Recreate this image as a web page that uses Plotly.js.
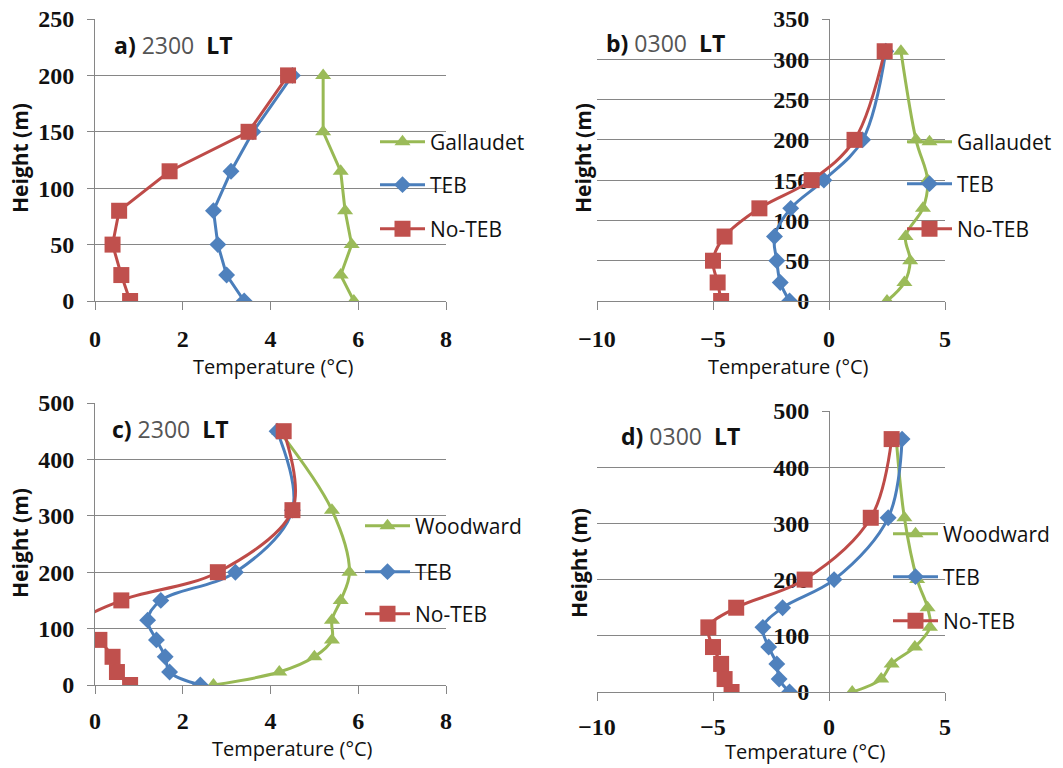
<!DOCTYPE html>
<html><head><meta charset="utf-8">
<script src="https://cdn.plot.ly/plotly-3.0.1.min.js"></script>
<style>html,body{margin:0;padding:0;background:#fff}</style>
</head><body><div id="chart" style="width:1063px;height:768px"></div>
<script>
// ---- data ----
const heightsA = [0, 23, 50, 80, 115, 150, 200];
const gallaudetA = [5.9, 5.6, 5.85, 5.7, 5.6, 5.2, 5.2];
const tebA = [3.4, 3.0, 2.8, 2.7, 3.1, 3.6, 4.5];
const noTebA = [0.8, 0.6, 0.4, 0.55, 1.7, 3.5, 4.4];

const heightsB = [0, 23, 50, 80, 115, 150, 200, 310];
const gallaudetB = [2.5, 3.25, 3.5, 3.3, 4.05, 4.25, 3.75, 3.1];
const tebB = [-1.7, -2.1, -2.25, -2.35, -1.65, -0.22, 1.45, 2.45];
const noTebB = [-4.65, -4.8, -5.0, -4.5, -3.0, -0.75, 1.1, 2.4];

const heightsC = [0, 23, 50, 80, 115, 150, 200, 310, 450];
const woodwardC = [2.7, 4.2, 5.0, 5.4, 5.4, 5.6, 5.8, 5.4, 4.2];
const tebC = [2.4, 1.7, 1.6, 1.4, 1.2, 1.5, 3.2, 4.5, 4.15];
const noTebC = [0.8, 0.5, 0.4, 0.1, -0.2, 0.6, 2.8, 4.5, 4.3];

const heightsD = [0, 23, 50, 80, 115, 150, 200, 310, 450];
const woodwardD = [1.0, 2.25, 2.7, 3.7, 4.35, 4.25, 3.8, 3.25, 2.9];
const tebD = [-1.7, -2.15, -2.25, -2.6, -2.85, -2.0, 0.22, 2.55, 3.15];
const noTebD = [-4.2, -4.5, -4.65, -5.0, -5.2, -4.0, -1.05, 1.8, 2.7];

const seriesNames = { obsA: 'Gallaudet', obsC: 'Woodward', teb: 'TEB', noteb: 'No-TEB' };
const panelLabels = ['<b>a)</b> <span style="color:#555">2300</span>  <b>LT</b>',
                     '<b>b)</b> <span style="color:#555">0300</span>  <b>LT</b>',
                     '<b>c)</b> <span style="color:#555">2300</span>  <b>LT</b>',
                     '<b>d)</b> <span style="color:#555">0300</span>  <b>LT</b>'];
const xTitle = 'Temperature (°C)';
const yTitle = '<b>Height (m)</b>';

// ---- styling ----
const W = 1063, H = 768;
const GREEN = '#98B954', GREEN_M = '#9BBB59';
const BLUE = '#4A7EBB', BLUE_M = '#4F81BD';
const RED = '#BE4B48', RED_M = '#C0504D';
const GRID = '#868686';
const tickFont = { family: 'Liberation Serif', size: 24, color: '#111', weight: 'bold' };
const legFont = { family: 'Open Sans', size: 21, color: '#111' };

function px(x) { return x / W; }
function py(y) { return 1 - y / H; }

const panels = [
  { ax: '', xs: [95, 446], ys: [19, 301], xr: [0, 8], xd: 2, yr: [0, 250], yd: 50, so: 8,
    h: heightsA, obs: gallaudetA, teb: tebA, nt: noTebA, obsName: seriesNames.obsA, shape: 'linear', mid: false },
  { ax: '2', xs: [597, 945], ys: [19, 301], xr: [-10, 5], xd: 5, yr: [0, 350], yd: 50, so: 8,
    h: heightsB, obs: gallaudetB, teb: tebB, nt: noTebB, obsName: seriesNames.obsA, shape: 'spline', mid: true },
  { ax: '3', xs: [95, 446], ys: [403, 685], xr: [0, 8], xd: 2, yr: [0, 500], yd: 100, so: 6,
    h: heightsC, obs: woodwardC, teb: tebC, nt: noTebC, obsName: seriesNames.obsC, shape: 'spline', mid: false },
  { ax: '4', xs: [597, 945], ys: [411, 692], xr: [-10, 5], xd: 5, yr: [0, 500], yd: 100, so: 5,
    h: heightsD, obs: woodwardD, teb: tebD, nt: noTebD, obsName: seriesNames.obsC, shape: 'spline', mid: true }
];

// legend: symbol-line start x and row centres (px); label / title positions (px)
const legendX = [380, 907, 365, 893];
const legendRows = [[142, 185, 229], [142, 184, 229], [526, 572, 614], [534, 577, 621]];
const labelPos = [[112, 45], [604, 43], [110, 429], [619, 436]];
const yTitlePos = [[20, 158], [583, 158], [20, 543], [579, 563]];
const xTitlePos = [[273, 366, 'middle'], [788, 367, 'middle'], [292, 748, 'middle'], [805, 767, 'bottom']];

const traces = [];
const layout = {
  width: W, height: H, autosize: false,
  margin: { l: 0, r: 0, t: 0, b: 0 },
  paper_bgcolor: '#fff', plot_bgcolor: 'rgba(0,0,0,0)',
  showlegend: true,
  annotations: []
};

let legIdx = 0;
panels.forEach((p, i) => {
  const xa = 'x' + p.ax, ya = 'y' + p.ax;
  const mk = (name, xs, col, mcol, sym, size, row) => {
    legIdx += 1;
    const lg = legIdx === 1 ? 'legend' : 'legend' + legIdx;
    layout[lg] = {
      x: px(legendX[i] - 5), y: py(legendRows[i][row]), xanchor: 'left', yanchor: 'middle',
      bgcolor: 'rgba(0,0,0,0)', borderwidth: 0, font: legFont, itemwidth: 45
    };
    return {
      type: 'scatter', mode: 'lines+markers', name: name,
      x: xs, y: p.h, xaxis: xa, yaxis: ya, legend: lg,
      line: { color: col, width: 3, shape: p.shape, smoothing: 1 },
      marker: { color: mcol, symbol: sym, size: size, line: { width: 0 } },
      hoverinfo: 'x+y+name'
    };
  };
  traces.push(mk(p.obsName, p.obs, GREEN, GREEN_M, 'triangle-up', 14, 0));
  traces.push(mk(seriesNames.teb, p.teb, BLUE, BLUE_M, 'diamond', 13, 1));
  traces.push(mk(seriesNames.noteb, p.nt, RED, RED_M, 'square', 16, 2));

  const xdom = [px(p.xs[0]), px(p.xs[1])];
  const ydom = [py(p.ys[1]), py(p.ys[0])];
  layout['xaxis' + p.ax] = {
    domain: xdom, range: p.xr, dtick: p.xd, tick0: 0, anchor: ya,
    showgrid: false, zeroline: false, showline: true, linecolor: GRID, linewidth: 1,
    ticks: 'outside', ticklen: 8, tickcolor: GRID, tickwidth: 1,
    tickfont: tickFont, ticklabelstandoff: p.so, fixedrange: true
  };
  const yax = {
    domain: ydom, range: p.yr, dtick: p.yd, tick0: 0,
    showgrid: true, gridcolor: GRID, gridwidth: 1, zeroline: false,
    showline: true, linecolor: GRID, linewidth: 1,
    ticks: 'outside', ticklen: 7, tickcolor: GRID, tickwidth: 1,
    tickfont: tickFont, ticklabelstandoff: 8, fixedrange: true
  };
  if (p.mid) {
    yax.anchor = 'free';
    yax.position = px(p.xs[0] + (p.xs[1] - p.xs[0]) * (0 - p.xr[0]) / (p.xr[1] - p.xr[0]));
    yax.layer = 'below traces';
  } else {
    yax.anchor = xa;
  }
  layout['yaxis' + p.ax] = yax;

  layout.annotations.push({
    xref: 'paper', yref: 'paper', x: px(labelPos[i][0]), y: py(labelPos[i][1]),
    xanchor: 'left', yanchor: 'middle', showarrow: false, text: panelLabels[i],
    font: { family: 'Open Sans', size: 23, color: '#111' }
  });
  layout.annotations.push({
    xref: 'paper', yref: 'paper', x: px(yTitlePos[i][0]), y: py(yTitlePos[i][1]),
    xanchor: 'center', yanchor: 'middle', showarrow: false, text: yTitle, textangle: -90,
    font: { family: 'Open Sans', size: 21, color: '#111' }
  });
  layout.annotations.push({
    xref: 'paper', yref: 'paper', x: px(xTitlePos[i][0]), y: py(xTitlePos[i][1]),
    xanchor: 'center', yanchor: xTitlePos[i][2], showarrow: false, text: xTitle,
    font: { family: 'Open Sans', size: 20, color: '#111' }
  });
});

Plotly.newPlot('chart', traces, layout, { staticPlot: true, displayModeBar: false });
</script>
</body></html>
